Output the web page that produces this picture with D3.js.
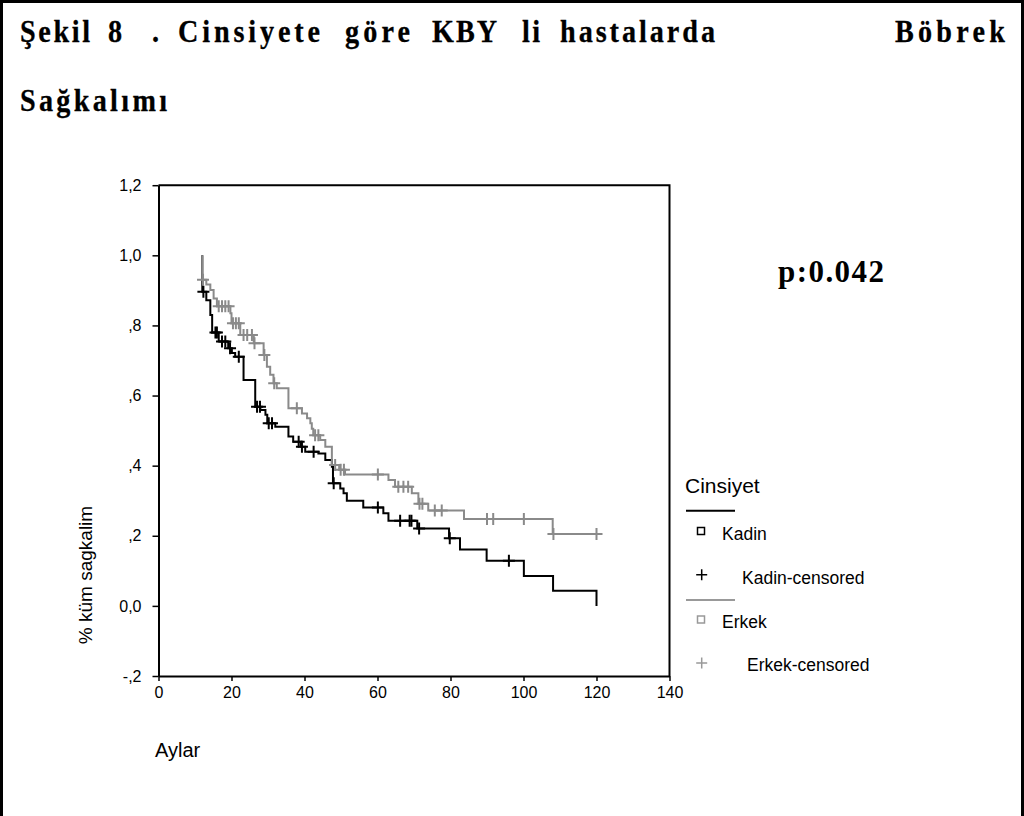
<!DOCTYPE html>
<html>
<head>
<meta charset="utf-8">
<script src="https://cdn.jsdelivr.net/npm/d3@7"></script>
<style>
  body { margin: 0; background: #fff; }
  svg { display: block; }
</style>
</head>
<body>
<svg id="chart" width="1024" height="816"></svg>
<script>
// Kaplan-Meier steps: event time (months) and cumulative survival after the event
const kadinTimes = [12.0, 13.1, 14.2, 14.7, 16.5, 19.1, 20.1, 21.0, 23.3, 26.5, 27.9, 29.3, 29.8, 32.0, 35.6, 36.9, 39.0, 40.2, 43.8, 45.7, 47.5, 47.8, 49.8, 50.7, 51.6, 56.1, 61.6, 63.0, 70.9, 79.6, 82.6, 89.9, 100.1, 108.1, 120.0];
const kadinSurv  = [0.896, 0.872, 0.830, 0.780, 0.754, 0.735, 0.721, 0.711, 0.644, 0.568, 0.559, 0.545, 0.521, 0.511, 0.483, 0.468, 0.454, 0.440, 0.435, 0.416, 0.397, 0.350, 0.335, 0.321, 0.300, 0.281, 0.264, 0.243, 0.221, 0.193, 0.161, 0.129, 0.085, 0.043, 0.0];
const kadinCensored = [12.3, 15.6, 16.0, 17.4, 18.3, 19.6, 22.0, 27.0, 27.8, 30.2, 31.1, 38.4, 39.3, 42.5, 48.0, 60.1, 66.2, 68.8, 69.3, 71.4, 79.8, 96.0];

const erkekTimes = [12.0, 13.1, 14.2, 15.1, 16.0, 19.7, 20.0, 22.4, 26.1, 28.8, 29.7, 30.6, 31.5, 32.4, 35.6, 39.3, 40.7, 41.6, 42.0, 42.4, 44.3, 45.7, 47.5, 49.5, 51.1, 63.0, 64.8, 69.4, 71.2, 73.9, 83.7, 108.0];
const erkekSurv  = [0.930, 0.917, 0.901, 0.877, 0.855, 0.835, 0.806, 0.773, 0.749, 0.716, 0.682, 0.659, 0.635, 0.621, 0.564, 0.549, 0.535, 0.521, 0.505, 0.487, 0.473, 0.454, 0.402, 0.388, 0.375, 0.359, 0.340, 0.321, 0.291, 0.272, 0.248, 0.205];
const erkekCensored = [12.2, 16.5, 17.4, 18.3, 19.2, 20.4, 21.2, 22.0, 23.3, 24.3, 25.6, 26.3, 29.0, 31.7, 37.9, 42.9, 43.8, 48.4, 49.9, 50.8, 60.1, 65.7, 67.1, 68.4, 71.5, 72.3, 75.7, 77.6, 90.0, 91.7, 100.1, 108.2, 120.0];

const startTime = 12.0;
const xTicks = [0, 20, 40, 60, 80, 100, 120, 140];
const yTicks = [-0.2, 0.0, 0.2, 0.4, 0.6, 0.8, 1.0, 1.2];
const yTickLabels = ["-,2", "0,0", ",2", ",4", ",6", ",8", "1,0", "1,2"];

const legendTitle = "Cinsiyet";
const legendLabels = ["Kadin", "Kadin-censored", "Erkek", "Erkek-censored"];
const titleLine1 = ["Şekil", "8", ".", "Cinsiyete", "göre", "KBY", "li", "hastalarda", "Böbrek"];
const titleLine2 = "Sağkalımı";

const KADIN_COLOR = "#000000";
const ERKEK_COLOR = "#8a8a8a";
const SANS = "'Liberation Sans', Arial, sans-serif";
const SERIF = "'Liberation Serif', 'Times New Roman', serif";

const svg = d3.select("#chart");

// page frame
svg.append("path")
  .attr("d", "M1.5,816 V1.5 H1022.5 V816")
  .attr("fill", "none").attr("stroke", "#000").attr("stroke-width", 3);

// heading: justified, slightly condensed bold serif words
const line1Pos = [[20, 70], [108, 14], [152, 6], [178, 142], [345, 65], [432, 65], [522, 18], [560, 155], [895, 110]];
const hScale = 0.88;
const heading = svg.append("g").attr("font-family", SERIF).attr("font-weight", "bold").attr("font-size", 32)
  .attr("stroke", "#000").attr("stroke-width", 0.3);
titleLine1.forEach((w, i) => {
  const [x0, wd] = line1Pos[i];
  const t = heading.append("text")
    .attr("transform", `translate(${x0},42) scale(${hScale},1)`)
    .text(w);
  if (w.length > 1) t.attr("textLength", wd / hScale).attr("lengthAdjust", "spacing");
});
heading.append("text")
  .attr("transform", `translate(20,111) scale(${hScale},1)`)
  .attr("textLength", 147 / hScale).attr("lengthAdjust", "spacing")
  .text(titleLine2);

// plot scales
const x = d3.scaleLinear().domain([0, 140]).range([158.5, 669.5]);
const y = d3.scaleLinear().domain([-0.2, 1.2]).range([676, 185.2]);

// frame on top and right of plot
svg.append("path")
  .attr("d", `M${x(0)},${y(1.2)} H${x(140)} V${y(-0.2)}`)
  .attr("fill", "none").attr("stroke", "#000").attr("stroke-width", 2);

const yAxis = svg.append("g")
  .attr("transform", `translate(${x(0)},0)`)
  .call(d3.axisLeft(y).tickValues(yTicks)
    .tickFormat((d, i) => yTickLabels[i])
    .tickSize(6).tickSizeOuter(0).tickPadding(11));
const xAxis = svg.append("g")
  .attr("transform", `translate(0,${y(-0.2)})`)
  .call(d3.axisBottom(x).tickValues(xTicks)
    .tickSize(5).tickSizeOuter(0).tickPadding(6));

[xAxis, yAxis].forEach(g => {
  g.select(".domain").attr("stroke", "#000").attr("stroke-width", 2);
  g.selectAll(".tick line").attr("stroke", "#000").attr("stroke-width", 1.5);
  g.selectAll(".tick text").attr("fill", "#000").attr("font-family", SANS).attr("font-size", 16);
});

// axis titles
svg.append("text")
  .attr("transform", "translate(92,575) rotate(-90)")
  .attr("text-anchor", "middle")
  .attr("font-family", SANS).attr("font-size", 19)
  .text("% küm sagkalim");
svg.append("text")
  .attr("x", 155).attr("y", 757)
  .attr("font-family", SANS).attr("font-size", 20)
  .text("Aylar");

// survival curves
function stepPoints(times, surv) {
  const pts = [[startTime, 1.0]];
  times.forEach((t, i) => pts.push([t, surv[i]]));
  return pts;
}
function survAt(times, surv, t) {
  const i = d3.bisectRight(times, t);
  return i === 0 ? 1.0 : surv[i - 1];
}
const stepLine = d3.line().x(d => x(d[0])).y(d => y(d[1])).curve(d3.curveStepAfter);

const groups = [
  { times: kadinTimes, surv: kadinSurv, cens: kadinCensored, color: KADIN_COLOR },
  { times: erkekTimes, surv: erkekSurv, cens: erkekCensored, color: ERKEK_COLOR }
];

groups.forEach(gp => {
  const pts = stepPoints(gp.times, gp.surv);
  const lastCens = d3.max(gp.cens);
  const lastEvent = gp.times[gp.times.length - 1];
  if (lastCens > lastEvent) pts.push([lastCens, gp.surv[gp.surv.length - 1]]);
  svg.append("path")
    .attr("d", stepLine(pts))
    .attr("fill", "none").attr("stroke", gp.color).attr("stroke-width", 2);

  svg.append("g").selectAll("path")
    .data(gp.cens)
    .join("path")
    .attr("d", t => {
      const cx = x(t), cy = y(survAt(gp.times, gp.surv, t));
      return `M${cx - 6},${cy}H${cx + 6}M${cx},${cy - 6}V${cy + 6}`;
    })
    .attr("fill", "none").attr("stroke", gp.color).attr("stroke-width", 2);
});

// p value
svg.append("text")
  .attr("x", 778).attr("y", 282)
  .attr("font-family", SERIF).attr("font-weight", "bold").attr("font-size", 31)
  .attr("textLength", 106).attr("lengthAdjust", "spacing")
  .text("p:0.042");

// legend
const lg = svg.append("g").attr("font-family", SANS).attr("fill", "#000");
lg.append("text").attr("x", 685).attr("y", 493).attr("font-size", 21).text(legendTitle);

const legendRows = [
  { color: KADIN_COLOR, lineY: 510.7, boxY: 531, labelX: 722, labelY: 540, crossY: 574.7, cLabelX: 742, cLabelY: 584 },
  { color: "#999999", lineY: 600, boxY: 619.5, labelX: 722, labelY: 628, crossY: 663, cLabelX: 747, cLabelY: 671 }
];
legendRows.forEach((r, i) => {
  lg.append("line").attr("x1", 686).attr("x2", 735).attr("y1", r.lineY).attr("y2", r.lineY)
    .attr("stroke", r.color).attr("stroke-width", 2);
  lg.append("rect").attr("x", 697.5).attr("y", r.boxY - 3.5).attr("width", 7).attr("height", 7)
    .attr("fill", "#fff").attr("stroke", r.color).attr("stroke-width", 1.5);
  lg.append("text").attr("x", r.labelX).attr("y", r.labelY).attr("font-size", 17.5).text(legendLabels[i * 2]);
  lg.append("path").attr("d", `M${701.7 - 5.5},${r.crossY}H${701.7 + 5.5}M701.7,${r.crossY - 5.5}V${r.crossY + 5.5}`)
    .attr("stroke", r.color).attr("stroke-width", 1.5);
  lg.append("text").attr("x", r.cLabelX).attr("y", r.cLabelY).attr("font-size", 17.5).text(legendLabels[i * 2 + 1]);
});
</script>
</body>
</html>
